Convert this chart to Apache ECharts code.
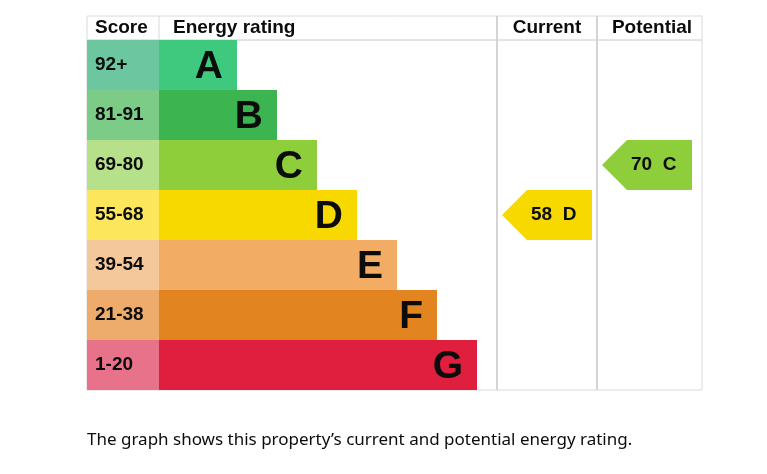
<!DOCTYPE html>
<html>
<head>
<meta charset="utf-8">
<script src="https://cdn.jsdelivr.net/npm/echarts@6/dist/echarts.min.js"></script>
<style>
  html, body { margin: 0; padding: 0; background: #fff; }
  #echart { width: 767px; height: 474px; }
</style>
</head>
<body>
<div id="echart"></div>
<script>
var bands = ['A', 'B', 'C', 'D', 'E', 'F', 'G'];
var scoreRanges = ['92+', '81-91', '69-80', '55-68', '39-54', '21-38', '1-20'];
var bandMin = [92, 81, 69, 55, 39, 21, 1];
var barLength = [78, 118, 158, 198, 238, 278, 318];
var currentScore = 58;
var potentialScore = 70;

var bandColors = ['#3ec97e', '#3cb550', '#8dce3a', '#f7d900', '#f2ac64', '#e2841f', '#df1f3d'];
var scoreColors = ['#6cc6a0', '#7ccc88', '#b6e08a', '#fbe65c', '#f5c89b', '#edac6c', '#e9728b'];

var myChart = echarts.init(document.getElementById('echart'));
var FONT = 'Liberation Sans';

function bandOf(score) {
	for (var i = 0; i < bandMin.length; i++) {
		if (score >= bandMin[i]) return i;
	}
	return bandMin.length - 1;
}

// column edges in axis units (0 = start of the rating bars)
var XMIN = -72, XMAX = 543;
var columns = [
	{ from: 338, to: 438, score: currentScore },
	{ from: 438, to: 543, score: potentialScore }
];

var arrowData = columns.map(function (c, k) {
	return [k, bandOf(c.score), c.score];
});

function boldText(txt) {
	return { text: txt, fontFamily: FONT, fontWeight: 'bold', fontSize: 19, fill: '#0b0c0c', verticalAlign: 'middle' };
}

function headText(txt, x, align) {
	var st = boldText(txt);
	st.align = align;
	return { type: 'text', x: x, y: 28, style: st };
}

option = {
	animation: false,
	grid: {
		left: 87, right: 65, top: 40, bottom: 84,
		show: true, borderColor: '#dadada', borderWidth: 1
	},
	xAxis: { type: 'value', min: XMIN, max: XMAX, show: false },
	yAxis: { type: 'category', data: bands, inverse: true, show: false },
	graphic: [
		{ type: 'rect', shape: { x: 87, y: 16, width: 615, height: 24 },
		  style: { fill: 'none', stroke: '#dadada', lineWidth: 1 } },
		{ type: 'line', shape: { x1: 159, y1: 16, x2: 159, y2: 40 }, style: { stroke: '#dadada', lineWidth: 1 } },
		{ type: 'line', shape: { x1: 497, y1: 16, x2: 497, y2: 40 }, style: { stroke: '#d4d4d4', lineWidth: 2 } },
		{ type: 'line', shape: { x1: 597, y1: 16, x2: 597, y2: 40 }, style: { stroke: '#d4d4d4', lineWidth: 2 } },
		headText('Score', 95, 'left'),
		headText('Energy rating', 173, 'left'),
		headText('Current', 547, 'center'),
		headText('Potential', 652, 'center'),
		{ type: 'text', x: 87, y: 440,
		  style: { text: 'The graph shows this property\u2019s current and potential energy rating.',
		           fontFamily: 'Noto Sans', fontSize: 17, fill: '#0b0c0c', verticalAlign: 'middle' } }
	],
	series: [
		{
			type: 'bar',
			data: barLength,
			barWidth: '100%',
			itemStyle: { color: function (p) { return bandColors[p.dataIndex]; } },
			label: {
				show: true,
				position: 'insideRight',
				distance: 14,
				offset: [0, 2],
				formatter: function (p) { return bands[p.dataIndex]; },
				fontFamily: FONT,
				fontWeight: 'bold',
				fontSize: 39,
				color: '#0b0c0c'
			},
			markLine: {
				silent: true,
				symbol: 'none',
				label: { show: false },
				lineStyle: { color: '#d4d4d4', width: 2, type: 'solid' },
				data: [{ xAxis: 338 }, { xAxis: 438 }]
			}
		},
		{
			type: 'custom',
			data: scoreRanges.map(function (s, i) { return [0, i]; }),
			encode: { x: 0, y: 1 },
			renderItem: function (params, api) {
				var i = api.value(1);
				var p0 = api.coord([XMIN, i]);
				var p1 = api.coord([0, i]);
				var h = api.size([0, 1])[1];
				return {
					type: 'group',
					children: [
						{ type: 'rect', shape: { x: p0[0], y: p0[1] - h / 2, width: p1[0] - p0[0], height: h },
						  style: { fill: scoreColors[i] } },
						{ type: 'text', x: p0[0] + 8, y: p0[1], style: boldText(scoreRanges[i]) }
					]
				};
			}
		},
		{
			type: 'custom',
			data: arrowData,
			encode: { x: 0, y: 1 },
			renderItem: function (params, api) {
				var col = columns[api.value(0)];
				var b = api.value(1);
				var sc = api.value(2);
				var left = api.coord([col.from, b])[0] + 5;
				var right = left + 90;
				var cy = api.coord([col.from, b])[1];
				var h = api.size([0, 1])[1];
				var tip = left + 25;
				return {
					type: 'group',
					children: [
						{ type: 'polygon',
						  shape: { points: [[left, cy], [tip, cy - h / 2], [right, cy - h / 2], [right, cy + h / 2], [tip, cy + h / 2]] },
						  style: { fill: bandColors[b] } },
						{ type: 'text', x: tip + 4, y: cy, style: boldText(sc + '  ' + bands[b]) }
					]
				};
			}
		}
	]
};

myChart.setOption(option);
</script>
</body>
</html>
